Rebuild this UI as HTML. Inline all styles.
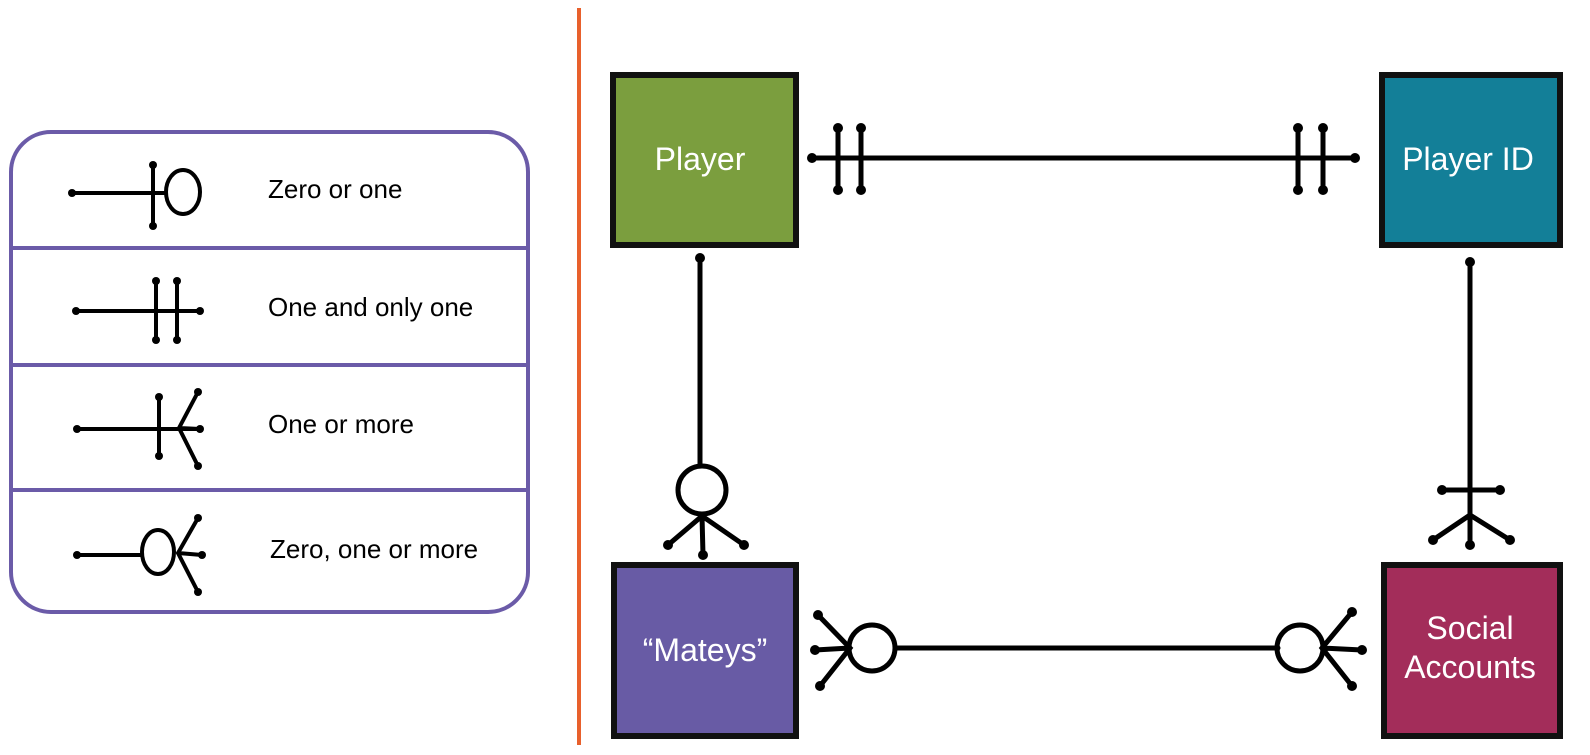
<!DOCTYPE html>
<html><head><meta charset="utf-8"><style>
html,body{margin:0;padding:0;background:#fff;}
svg{display:block;}
text{font-family:"Liberation Sans",sans-serif;}
</style></head><body>
<svg width="1590" height="755" viewBox="0 0 1590 755" xmlns="http://www.w3.org/2000/svg">
<line x1="579" y1="8" x2="579" y2="745" stroke="#e8602c" stroke-width="4"/>
<!-- legend -->
<rect x="11" y="132" width="517" height="480" rx="40" fill="none" stroke="#6b5ba8" stroke-width="4"/>
<line x1="11" y1="248" x2="528" y2="248" stroke="#6b5ba8" stroke-width="4"/>
<line x1="11" y1="365" x2="528" y2="365" stroke="#6b5ba8" stroke-width="4"/>
<line x1="11" y1="490" x2="528" y2="490" stroke="#6b5ba8" stroke-width="4"/>
<g stroke="#000" stroke-width="4" fill="none" stroke-linecap="round">
<line x1="72" y1="193" x2="166" y2="193"/><line x1="153" y1="165" x2="153" y2="226"/><ellipse cx="183" cy="192" rx="17" ry="22"/>
<line x1="76" y1="311" x2="200" y2="311"/><line x1="156" y1="281" x2="156" y2="340"/><line x1="177" y1="281" x2="177" y2="340"/>
<line x1="77" y1="429" x2="200" y2="429"/><line x1="159" y1="397" x2="159" y2="456"/><path d="M198 392L179 428L198 466M179 428L200 429"/>
<line x1="77" y1="555" x2="142" y2="555"/><ellipse cx="158" cy="552" rx="16" ry="22"/><path d="M198 518L178 553L198 592M178 553L202 555"/>
</g>
<g fill="#000">
<circle cx="72" cy="193" r="4"/><circle cx="153" cy="165" r="4"/><circle cx="153" cy="226" r="4"/>
<circle cx="76" cy="311" r="4"/><circle cx="200" cy="311" r="4"/><circle cx="156" cy="281" r="4"/><circle cx="156" cy="340" r="4"/><circle cx="177" cy="281" r="4"/><circle cx="177" cy="340" r="4"/>
<circle cx="77" cy="429" r="4"/><circle cx="159" cy="397" r="4"/><circle cx="159" cy="456" r="4"/><circle cx="198" cy="392" r="4"/><circle cx="200" cy="429" r="4"/><circle cx="198" cy="466" r="4"/>
<circle cx="77" cy="555" r="4"/><circle cx="198" cy="518" r="4"/><circle cx="202" cy="555" r="4"/><circle cx="198" cy="592" r="4"/>
</g>
<g font-size="26" fill="#000">
<text x="268" y="198">Zero or one</text>
<text x="268" y="316">One and only one</text>
<text x="268" y="433">One or more</text>
<text x="270" y="558">Zero, one or more</text>
</g>
<!-- entities -->
<rect x="613" y="75" width="183" height="170" fill="#7b9e3e" stroke="#111" stroke-width="6"/>
<rect x="1382" y="75" width="178" height="170" fill="#137f98" stroke="#111" stroke-width="6"/>
<rect x="614" y="565" width="182" height="171" fill="#685ba5" stroke="#111" stroke-width="6"/>
<rect x="1384" y="565" width="176" height="171" fill="#a32d5a" stroke="#111" stroke-width="6"/>
<g font-size="32" fill="#fff" text-anchor="middle">
<text x="700" y="170">Player</text>
<text x="1468" y="170">Player ID</text>
<text x="705" y="661">“Mateys”</text>
<text x="1470" y="639">Social</text>
<text x="1470" y="678">Accounts</text>
</g>
<!-- connectors -->
<g stroke="#000" stroke-width="5" fill="none" stroke-linecap="round">
<line x1="812" y1="158" x2="1355" y2="158"/>
<line x1="838" y1="128" x2="838" y2="190"/><line x1="861" y1="128" x2="861" y2="190"/>
<line x1="1298" y1="128" x2="1298" y2="190"/><line x1="1323" y1="128" x2="1323" y2="190"/>
<line x1="700" y1="258" x2="700" y2="466"/>
<circle cx="702" cy="490" r="24"/>
<path d="M668 545L702 516L744 545M702 516L703 555"/>
<line x1="1470" y1="262" x2="1470" y2="545"/>
<line x1="1442" y1="490" x2="1500" y2="490"/>
<path d="M1433 540L1470 515L1510 540"/>
<line x1="896" y1="648" x2="1278" y2="648"/>
<circle cx="872" cy="648" r="23"/>
<path d="M818 615L850 648L820 686M850 648L815 650"/>
<circle cx="1300" cy="648" r="23"/>
<path d="M1352 612L1322 648L1352 686M1322 648L1362 650"/>
</g>
<g fill="#000">
<circle cx="812" cy="158" r="5"/><circle cx="1355" cy="158" r="5"/>
<circle cx="838" cy="128" r="5"/><circle cx="838" cy="190" r="5"/><circle cx="861" cy="128" r="5"/><circle cx="861" cy="190" r="5"/>
<circle cx="1298" cy="128" r="5"/><circle cx="1298" cy="190" r="5"/><circle cx="1323" cy="128" r="5"/><circle cx="1323" cy="190" r="5"/>
<circle cx="700" cy="258" r="5"/><circle cx="668" cy="545" r="5"/><circle cx="744" cy="545" r="5"/><circle cx="703" cy="555" r="5"/>
<circle cx="1470" cy="262" r="5"/><circle cx="1442" cy="490" r="5"/><circle cx="1500" cy="490" r="5"/><circle cx="1433" cy="540" r="5"/><circle cx="1510" cy="540" r="5"/><circle cx="1470" cy="545" r="5"/>
<circle cx="818" cy="615" r="5"/><circle cx="820" cy="686" r="5"/><circle cx="815" cy="650" r="5"/>
<circle cx="1352" cy="612" r="5"/><circle cx="1352" cy="686" r="5"/><circle cx="1362" cy="650" r="5"/>
</g>
</svg>
</body></html>
